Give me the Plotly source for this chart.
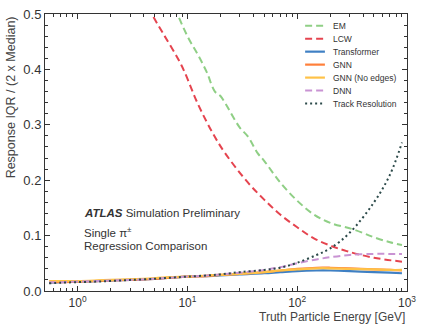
import plotly.graph_objects as go

# ---- data ----
energy_low = [0.55, 0.7, 1, 1.5, 2, 3, 5, 7, 10, 15, 20, 30, 50, 70, 100, 150, 200, 300, 500, 700, 900]
transformer = [0.015, 0.016, 0.017, 0.018, 0.019, 0.020, 0.022, 0.024, 0.026, 0.027, 0.028, 0.030, 0.032, 0.034, 0.036, 0.037, 0.037, 0.036, 0.034, 0.033, 0.032]
gnn = [0.016, 0.016, 0.017, 0.018, 0.019, 0.020, 0.022, 0.024, 0.026, 0.027, 0.029, 0.031, 0.034, 0.037, 0.040, 0.042, 0.042, 0.041, 0.039, 0.038, 0.037]
gnn_noedges = [0.018, 0.018, 0.018, 0.019, 0.020, 0.021, 0.023, 0.025, 0.026, 0.028, 0.029, 0.031, 0.034, 0.037, 0.039, 0.041, 0.041, 0.040, 0.039, 0.038, 0.038]
dnn = [0.016, 0.016, 0.017, 0.018, 0.019, 0.020, 0.022, 0.024, 0.026, 0.028, 0.030, 0.033, 0.038, 0.043, 0.050, 0.057, 0.061, 0.065, 0.067, 0.067, 0.067]
track = [0.014, 0.015, 0.016, 0.017, 0.018, 0.020, 0.022, 0.024, 0.026, 0.028, 0.030, 0.034, 0.038, 0.042, 0.051, 0.065, 0.077, 0.105, 0.160, 0.210, 0.268]

energy_em = [7, 10, 12.5, 15, 17.8, 20, 22.4, 30, 35.5, 43.6, 50, 70, 100, 142, 200, 326, 500, 700, 900]
em = [0.53, 0.46, 0.426, 0.395, 0.36, 0.352, 0.337, 0.295, 0.279, 0.249, 0.235, 0.196, 0.163, 0.138, 0.123, 0.111, 0.097, 0.088, 0.083]

energy_lcw = [4, 4.74, 6, 8.8, 12.5, 17, 22, 35.5, 50, 70, 100, 142, 200, 282, 500, 900]
lcw = [0.53, 0.5, 0.465, 0.408, 0.337, 0.285, 0.249, 0.196, 0.165, 0.138, 0.115, 0.095, 0.082, 0.072, 0.060, 0.053]

x_major = [1, 10, 100, 1000]
x_major_text = ["10<sup>0</sup>", "10<sup>1</sup>", "10<sup>2</sup>", "10<sup>3</sup>"]
x_minor = [0.6, 0.7, 0.8, 0.9] + [m * d for d in (1, 10, 100) for m in range(2, 10)]
y_major = [0, 0.1, 0.2, 0.3, 0.4, 0.5]
y_major_text = ["0.0", "0.1", "0.2", "0.3", "0.4", "0.5"]

series = [
    ("EM", energy_em, em, "#8fcf85", "7px,4px", 2),
    ("LCW", energy_lcw, lcw, "#e5444f", "7px,4px", 2),
    ("Transformer", energy_low, transformer, "#3f80c4", "solid", 2.2),
    ("GNN", energy_low, gnn, "#ff7f3a", "solid", 2.2),
    ("GNN (No edges)", energy_low, gnn_noedges, "#ffc247", "solid", 2.2),
    ("DNN", energy_low, dnn, "#c993d3", "7px,4px", 2),
    ("Track Resolution", energy_low, track, "#2c4a4a", "2px,3px", 2),
]

fig = go.Figure()
for name, x, y, color, dash, width in series:
    fig.add_trace(go.Scatter(x=x, y=y, name=name, mode="lines", showlegend=False,
                             line=dict(color=color, dash=dash, width=width),
                             line_shape="spline"))

axis_common = dict(showline=True, linecolor="#333", linewidth=1, mirror="allticks",
                   ticks="inside", ticklen=5, tickcolor="#333", showgrid=False, zeroline=False)

fig.update_xaxes(type="log", range=[-0.297, 3], tickvals=x_major, ticktext=x_major_text,
                 tickfont=dict(size=12, color="#333"), ticklabelstandoff=1,
                 minor=dict(tickvals=x_minor, ticks="inside", ticklen=3, tickcolor="#333"),
                 **axis_common)
fig.update_yaxes(range=[0, 0.5], tickvals=y_major, ticktext=y_major_text,
                 tickfont=dict(size=13, color="#333"),
                 minor=dict(dtick=0.02, ticks="inside", ticklen=3, tickcolor="#333"),
                 **axis_common)

# plot-area pixel geometry (for the hand-drawn legend)
L, R, T, B = 45, 411, 7, 291
def px_x(p):
    return (p - L) / (R - L)
def px_y(p):
    return (B - p) / (B - T)

shapes = []
annotations = []
for i, (name, _x, _y, color, dash, width) in enumerate(series):
    yy = px_y(19 + 13.3 * i)
    shapes.append(dict(type="line", xref="paper", yref="paper",
                       x0=px_x(308), x1=px_x(328), y0=yy, y1=yy,
                       line=dict(color=color, dash=dash, width=width)))
    annotations.append(dict(text=name, xref="paper", yref="paper", x=px_x(334), y=yy,
                            xanchor="left", yanchor="middle", showarrow=False,
                            font=dict(size=8.5, color="#333")))

annotations += [
    dict(text="Response IQR / (2 x Median)", textangle=-90, xref="paper", yref="paper",
         x=px_x(11), y=1.0, xanchor="center", yanchor="top", showarrow=False,
         font=dict(size=12.5, color="#444")),
    dict(text="Truth Particle Energy [GeV]", xref="paper", yref="paper",
         x=1.0, y=px_y(318), xanchor="right", yanchor="middle", showarrow=False,
         font=dict(size=12, color="#444")),
    dict(text="<b><i>ATLAS</i></b> Simulation Preliminary", xref="paper", yref="paper",
         x=px_x(82), y=px_y(211), xanchor="left", yanchor="middle", showarrow=False,
         font=dict(size=11.5, color="#333")),
    dict(text="Single π<sup>±</sup>", xref="paper", yref="paper",
         x=px_x(82), y=px_y(231), xanchor="left", yanchor="middle", showarrow=False,
         font=dict(size=11.5, color="#333")),
    dict(text="Regression Comparison", xref="paper", yref="paper",
         x=px_x(82), y=px_y(245), xanchor="left", yanchor="middle", showarrow=False,
         font=dict(size=11.5, color="#333")),
]

fig.update_layout(
    width=423, height=328,
    margin=dict(l=L, r=423 - R, t=T, b=328 - B),
    plot_bgcolor="white", paper_bgcolor="white",
    font=dict(family="Liberation Sans, Arial, sans-serif", color="#333"),
    showlegend=False,
    shapes=shapes,
    annotations=annotations,
)

fig.write_html("out.html", config={"displayModeBar": False},
               post_script="document.body.style.margin='0';")
